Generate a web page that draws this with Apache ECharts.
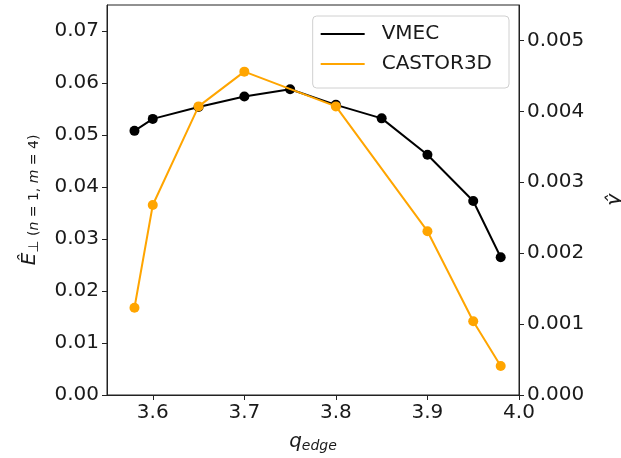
<!DOCTYPE html>
<html>
<head>
<meta charset="utf-8">
<script src="https://cdn.jsdelivr.net/npm/echarts@6/dist/echarts.min.js"></script>
<style>
  html, body { margin: 0; padding: 0; background: #fff; }
  #chart { width: 621px; height: 458px; }
</style>
</head>
<body>
<div id="chart"></div>
<script>
// Edge safety factor scan: VMEC perturbation amplitude (left axis)
// and CASTOR3D growth rate (right axis)
const qEdge = [3.58, 3.60, 3.65, 3.70, 3.75, 3.80, 3.85, 3.90, 3.95, 3.98];
const vmecE = [0.0508, 0.0531, 0.0554, 0.0574, 0.0588, 0.0558, 0.0532, 0.0462, 0.0373, 0.0265];

const castorQ = [3.58, 3.60, 3.65, 3.70, 3.80, 3.90, 3.95, 3.98];
const castorGamma = [0.00123, 0.00268, 0.00407, 0.00456, 0.00407, 0.00231, 0.00104, 0.00041];

const xTicks = [3.6, 3.7, 3.8, 3.9, 4.0];
const leftTicks = [0, 0.01, 0.02, 0.03, 0.04, 0.05, 0.06, 0.07];
const rightTicks = [0, 0.001, 0.002, 0.003, 0.004, 0.005];

const FONT = 'DejaVu Sans';
const INK = '#1a1a1a';
const ORANGE = '#ffa500';
const TICK_FS = 20;

const pairs = (xs, ys) => xs.map((x, i) => [x, ys[i]]);

const chart = echarts.init(document.getElementById('chart'), null, { renderer: 'canvas' });

chart.setOption({
  animation: false,
  backgroundColor: '#fff',
  textStyle: { fontFamily: FONT },
  grid: {
    left: 107, right: 102, top: 5, bottom: 63,
    outerBoundsMode: 'none', containLabel: false,
    show: true, borderColor: '#222', borderWidth: 1, backgroundColor: 'transparent'
  },
  legend: {
    orient: 'vertical',
    right: 112, top: 16,
    padding: [6, 17, 12, 8],
    backgroundColor: 'rgba(255,255,255,0.85)',
    borderColor: '#d0d0d0', borderWidth: 1, borderRadius: 4,
    icon: 'rect',
    itemWidth: 44, itemHeight: 2, itemGap: 6,
    textStyle: { fontFamily: FONT, fontSize: 20, color: INK, padding: [0, 0, 0, 12], lineHeight: 24 },
    data: ['VMEC', 'CASTOR3D']
  },
  xAxis: {
    type: 'value', min: 3.55, max: 4.0,
    name: '{q|q}{s|edge}', nameLocation: 'middle', nameGap: 35,
    nameTextStyle: {
      rich: {
        q: { fontFamily: FONT, fontStyle: 'italic', fontSize: 20, color: INK },
        s: { fontFamily: FONT, fontStyle: 'italic', fontSize: 14, color: INK, padding: [9, 0, 0, 0] }
      }
    },
    axisLine: { onZero: false, lineStyle: { color: '#222', width: 1 } },
    axisTick: { show: true, length: 5, customValues: xTicks, lineStyle: { color: '#222' } },
    axisLabel: {
      customValues: xTicks, fontFamily: FONT, fontSize: TICK_FS, color: INK, margin: 8,
      formatter: v => v.toFixed(1)
    },
    splitLine: { show: false }
  },
  yAxis: [
    {
      type: 'value', min: 0, max: 0.075, position: 'left',
      name: '{e|\u00CA}{s|\u22A5 (}{i|n}{s| = 1, }{i|m}{s| = 4)}',
      nameLocation: 'middle', nameRotate: 90, nameGap: 66,
      nameTextStyle: {
        rich: {
          e: { fontFamily: FONT, fontStyle: 'italic', fontSize: 20, color: INK },
          s: { fontFamily: FONT, fontSize: 14, color: INK, padding: [9, 0, 0, 0] },
          i: { fontFamily: FONT, fontStyle: 'italic', fontSize: 14, color: INK, padding: [9, 0, 0, 0] }
        }
      },
      axisLine: { show: true, onZero: false, lineStyle: { color: '#222', width: 1 } },
      axisTick: { show: true, length: 5, customValues: leftTicks, lineStyle: { color: '#222' } },
      axisLabel: {
        customValues: leftTicks, fontFamily: FONT, fontSize: TICK_FS, color: INK, margin: 8,
        formatter: v => v.toFixed(2)
      },
      splitLine: { show: false }
    },
    {
      type: 'value', min: 0, max: 0.0055, position: 'right',
      name: '\u03B3\u0302', nameLocation: 'middle', nameRotate: 90, nameGap: 86,
      nameTextStyle: { fontFamily: FONT, fontStyle: 'italic', fontSize: 20, color: INK },
      axisLine: { show: true, onZero: false, lineStyle: { color: '#222', width: 1 } },
      axisTick: { show: true, length: 5, customValues: rightTicks, lineStyle: { color: '#222' } },
      axisLabel: {
        customValues: rightTicks, fontFamily: FONT, fontSize: TICK_FS, color: INK, margin: 8,
        formatter: v => v.toFixed(3)
      },
      splitLine: { show: false }
    }
  ],
  series: [
    {
      name: 'VMEC', type: 'line', yAxisIndex: 0,
      data: pairs(qEdge, vmecE),
      color: '#000',
      lineStyle: { color: '#000', width: 2 },
      symbol: 'circle', symbolSize: 10, showAllSymbol: true,
      itemStyle: { color: '#000' }, z: 2
    },
    {
      name: 'CASTOR3D', type: 'line', yAxisIndex: 1,
      data: pairs(castorQ, castorGamma),
      color: ORANGE,
      lineStyle: { color: ORANGE, width: 2 },
      symbol: 'circle', symbolSize: 10, showAllSymbol: true,
      itemStyle: { color: ORANGE }, z: 3
    }
  ]
});
</script>
</body>
</html>
